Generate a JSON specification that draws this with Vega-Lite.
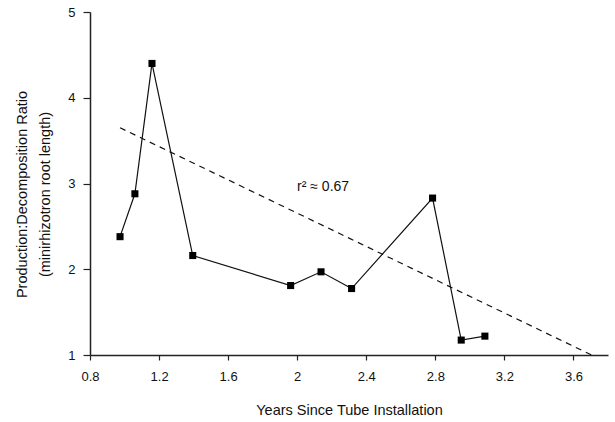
{
  "$schema": "https://vega.github.io/schema/vega-lite/v6.json",
  "width": 518,
  "height": 343,
  "autosize": {"type": "none"},
  "padding": {"left": 90, "top": 12, "right": 7, "bottom": 67},
  "background": "white",
  "config": {
    "view": {"stroke": null},
    "font": "Liberation Sans",
    "axis": {
      "grid": false,
      "domainColor": "#222",
      "tickColor": "#222",
      "labelColor": "#111",
      "titleColor": "#111",
      "labelFont": "Liberation Sans",
      "titleFont": "Liberation Sans",
      "labelFontSize": 13,
      "titleFontSize": 14.5,
      "titleFontWeight": "normal",
      "domainWidth": 1.5,
      "tickWidth": 1.2
    }
  },
  "datasets": {
    "obs": [
      {"years": 0.974, "ratio": 2.38},
      {"years": 1.06, "ratio": 2.88},
      {"years": 1.159, "ratio": 4.40},
      {"years": 1.395, "ratio": 2.16},
      {"years": 1.962, "ratio": 1.81},
      {"years": 2.138, "ratio": 1.97},
      {"years": 2.315, "ratio": 1.775},
      {"years": 2.784, "ratio": 2.83},
      {"years": 2.95, "ratio": 1.174},
      {"years": 3.087, "ratio": 1.22}
    ],
    "fit": [
      {"years": 0.974, "ratio": 3.65},
      {"years": 3.705, "ratio": 1.0}
    ],
    "note": [
      {"years": 2.15, "ratio": 2.96, "label": "r² ≈ 0.67"}
    ]
  },
  "layer": [
    {
      "data": {"name": "fit"},
      "mark": {"type": "line", "color": "#111", "strokeWidth": 1.2, "strokeDash": [6, 5]},
      "encoding": {
        "x": {
          "field": "years", "type": "quantitative",
          "scale": {"domain": [0.8, 3.8], "nice": false, "zero": false},
          "axis": {
            "title": "Years Since Tube Installation",
            "values": [0.8, 1.0, 1.2, 1.4, 1.6, 1.8, 2.0, 2.2, 2.4, 2.6, 2.8, 3.0, 3.2, 3.4, 3.6, 3.8],
            "labelExpr": "(round(datum.value*10)%4==0 && round(datum.value*10)<38) ? toString(round(datum.value*10)/10) : ''",
            "tickSize": 5,
            "labelPadding": 10,
            "titlePadding": 20,
            "labelFlush": false
          }
        },
        "y": {
          "field": "ratio", "type": "quantitative",
          "scale": {"domain": [1, 5], "nice": false, "zero": false},
          "axis": {
            "title": ["Production:Decomposition Ratio", "(minirhizotron root length)"],
            "values": [1, 2, 3, 4, 5],
            "format": "d",
            "tickSize": 7,
            "labelPadding": 8,
            "titleLineHeight": 23,
            "titleX": -68,
            "titleY": 182,
            "titleBaseline": "middle",
            "titleAlign": "center",
            "titleAngle": -90,
            "labelFlush": false
          }
        }
      }
    },
    {
      "data": {"name": "obs"},
      "mark": {"type": "line", "color": "#111", "strokeWidth": 1.2},
      "encoding": {
        "x": {"field": "years", "type": "quantitative"},
        "y": {"field": "ratio", "type": "quantitative"}
      }
    },
    {
      "data": {"name": "obs"},
      "mark": {"type": "point", "shape": "square", "filled": true, "color": "#000", "opacity": 1, "size": 50},
      "encoding": {
        "x": {"field": "years", "type": "quantitative"},
        "y": {"field": "ratio", "type": "quantitative"}
      }
    },
    {
      "data": {"name": "note"},
      "mark": {"type": "text", "fontSize": 14, "color": "#111", "align": "center", "baseline": "middle"},
      "encoding": {
        "x": {"field": "years", "type": "quantitative"},
        "y": {"field": "ratio", "type": "quantitative"},
        "text": {"field": "label"}
      }
    }
  ]
}
